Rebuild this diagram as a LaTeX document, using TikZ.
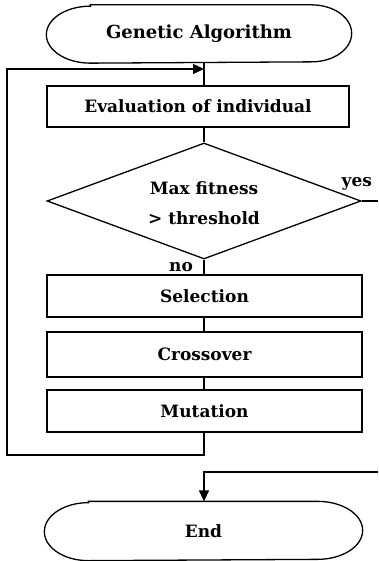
\documentclass[tikz,border=0pt]{standalone}
\usepackage{fontspec}
\setmainfont{DejaVu Serif}
\usetikzlibrary{shapes.geometric,arrows.meta,calc}
\begin{document}
\begin{tikzpicture}[x=1pt,y=-1pt,
  line width=1.3pt,
  txt/.style={font=\bfseries\fontsize{17}{20}\selectfont},
  terminal/.style={rectangle, inner sep=0pt, txt},
  procbox/.style={draw, rectangle, inner sep=0pt, txt},
  decision/.style={draw, diamond, inner sep=0pt, minimum width=314pt, minimum height=116pt},
  lbl/.style={txt, inner sep=0pt},
  arr/.style={-{Triangle[length=11pt,width=10pt]}}
]
\useasboundingbox (0,0) rectangle (378,561);
\node[terminal, minimum width=304pt, minimum height=57pt, font=\bfseries\fontsize{18}{20}\selectfont] (start) at (199,34) {Genetic Algorithm};
\draw ($(start.north west)+(44,0)$) -- ($(start.north east)+(-40,0)$)
  arc[start angle=90, end angle=-90, x radius=40pt, y radius=28.5pt]
  -- ($(start.south west)+(44,0)$)
  arc[start angle=270, end angle=90, x radius=44pt, y radius=28.5pt] -- cycle;
\node[procbox, minimum width=302pt, minimum height=41pt] (eval) at (198,106.5) {Evaluation of individual};
\node[decision] (dec) at (204,201) {};
\node[lbl, align=center] (dectext) at (204,203) {Max fitness\\[10pt]> threshold};
\node[procbox, minimum width=315pt, minimum height=42pt] (sel) at (204.5,296) {Selection};
\node[procbox, minimum width=315pt, minimum height=45pt] (cross) at (204.5,354.5) {Crossover};
\node[procbox, minimum width=315pt, minimum height=42pt] (mut) at (204.5,411) {Mutation};
\node[terminal, minimum width=317pt, minimum height=58pt] (end) at (203.5,531) {End};
\draw ($(end.north west)+(44,0)$) -- ($(end.north east)+(-45,0)$)
  arc[start angle=90, end angle=-90, x radius=45pt, y radius=29pt]
  -- ($(end.south west)+(44,0)$)
  arc[start angle=270, end angle=90, x radius=44pt, y radius=29pt] -- cycle;
\node[lbl, anchor=west] (yes) at (341,184) {yes};
\node[lbl] (no) at (181,267) {no};
\coordinate (axis) at (204,0);
\coordinate (loopB) at (204,455);
\coordinate (loopL) at (7,455);
\coordinate (loopT) at (7,69);
\coordinate (yesR) at (378,201);
\coordinate (yesR2) at (378,472);
\coordinate (yesC) at (204,472);
\draw (start.south -| axis) -- (eval.north -| axis);
\draw (eval.south -| axis) -- (dec.north);
\draw (dec.south) -- (sel.north -| dec.south);
\draw (sel.south -| axis) -- (cross.north -| axis);
\draw (cross.south -| axis) -- (mut.north -| axis);
\draw[arr] (mut.south -| axis) -- (loopB) -- (loopL) -- (loopT) -- (loopT -| axis);
\draw (dec.east) -- (yesR);
\draw[arr] (yesR2) -- (yesC) -- (end.north -| yesC);
\end{tikzpicture}
\end{document}
